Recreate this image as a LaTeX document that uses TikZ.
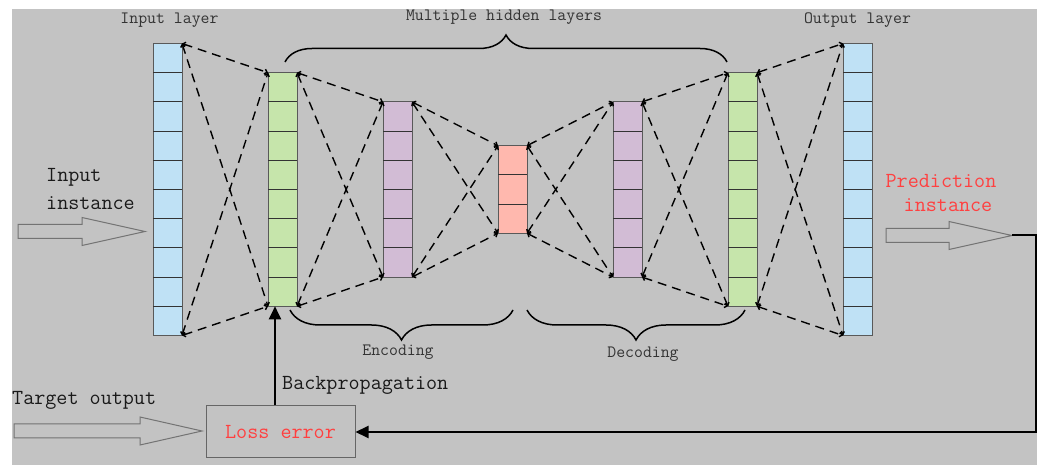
\documentclass[tikz,border=0pt]{standalone}
\usepackage{tikz}
\usetikzlibrary{calc,arrows.meta,decorations.pathreplacing}
\definecolor{bggray}{RGB}{195,195,195}
\definecolor{inblue}{RGB}{191,225,245}
\definecolor{hgreen}{RGB}{198,229,171}
\definecolor{hpurple}{RGB}{210,188,213}
\definecolor{cpink}{RGB}{255,184,174}
\definecolor{errred}{RGB}{255,64,64}
\def\blockarrow(#1:#2:#3:#4){\draw[blockarr] (#1,#4-7) -- (#2,#4-7) -- (#2,#4-14) -- (#3,#4) -- (#2,#4+14) -- (#2,#4+7) -- (#1,#4+7) -- cycle;}
\tikzset{
	layer/.style={draw=black!65, line width=1pt, minimum width=29pt, inner sep=0pt, outer sep=0pt},
	cellsep/.style={line width=1pt, color=black!80},
	link/.style={dash pattern=on 9pt off 6pt, line width=1.4pt, {Straight Barb[length=2.5pt,width=5pt]}-{Straight Barb[length=2.5pt,width=5pt]}},
	curly/.style={decorate, line width=1.5pt},
	blockarr/.style={draw=black!55, line width=1pt},
	feedback/.style={line width=2pt, -{Triangle[length=13pt,width=12pt]}},
	smalltxt/.style={font=\fontsize{17.3}{20}\ttfamily\selectfont, text=black!80, inner sep=1pt},
	bigtxt/.style={font=\fontsize{21.5}{28}\ttfamily\selectfont, text=black!90, inner sep=1pt},
	lossbox/.style={draw=black!60, line width=1pt, minimum width=149pt, minimum height=52pt, text=errred, font=\fontsize{21.5}{28}\ttfamily\selectfont}
}

\begin{document}
\begin{tikzpicture}[x=1pt, y=1pt]
			%%%%% START %%%%%
			
			\useasboundingbox (0,0) rectangle (1040,465);
			\fill[bggray] (12,0) rectangle (1037,456);
			
			% layers with their cells
			\foreach \nm/\cx/\n/\col in {in/167.5/10/inblue, g1/282.5/8/hgreen, p1/397.5/6/hpurple, c/512.5/3/cpink, p2/627.5/6/hpurple, g2/742.5/8/hgreen, out/857.5/10/inblue}{
				\node[layer, fill=\col, minimum height=\n*29.2pt] (\nm) at (\cx, 275.5) {};
				\pgfmathtruncatemacro{\m}{\n-1}
				\foreach \k in {1,...,\m}
					\draw[cellsep] ($(\nm.north west)+(0,-\k*29.2)$) -- ++(29,0);
			}
			
			% dashed links
			\foreach \a/\b in {in/g1, g1/p1, p1/c, c/p2, p2/g2, g2/out}{
				\draw[link] (\a.north east) -- (\b.north west);
				\draw[link] (\a.north east) -- (\b.south west);
				\draw[link] (\a.south east) -- (\b.north west);
				\draw[link] (\a.south east) -- (\b.south west);
			}
			
			\node[smalltxt] (inl) at (169.5,445) {Input layer};
			\node[smalltxt] (outl) at (857.5,445) {Output layer};
			
			% braces
			\draw[curly, decoration={brace, amplitude=27pt}] (285,403) -- (727,403);
			\node[smalltxt] (hid) at (504,448) {Multiple hidden layers};
			\draw[curly, decoration={brace, amplitude=30pt}] (513,155) -- (290,155);
			\node[smalltxt] (enc) at (398,113) {Encoding};
			\draw[curly, decoration={brace, amplitude=30pt}] (745,155) -- (527,155);
			\node[smalltxt] (dec) at (643,111) {Decoding};
			
			% block arrows
			\blockarrow(18:82:145:233.5)
			\blockarrow(14:140:202:34)
			\blockarrow(886:949:1012:229.5)
			
			\node[bigtxt, anchor=west, align=left] (inst) at (45,276) {Input\\instance};
			\node[bigtxt, text=errred, align=center] (pred) at (941,272) {Prediction\\[-4pt]\hspace*{14pt}instance};
			\node[bigtxt, anchor=west] (tgt) at (11,65) {Target output};
			\node[bigtxt, anchor=west] (bprop) at (281,80) {Backpropagation};
			
			\node[lossbox] (loss) at (280.5,33) {Loss error};
			
			\coordinate (predtip) at (1012,229.5);
			\coordinate (rim) at (1036,0);
			\coordinate (bp) at (275,0);
			\draw[feedback] (predtip) -| (rim |- loss.east) -- (loss.east);
			\draw[feedback] (loss.north -| bp) -- (g1.south -| bp);
			
			%%%%% END %%%%%
\end{tikzpicture}
\end{document}
